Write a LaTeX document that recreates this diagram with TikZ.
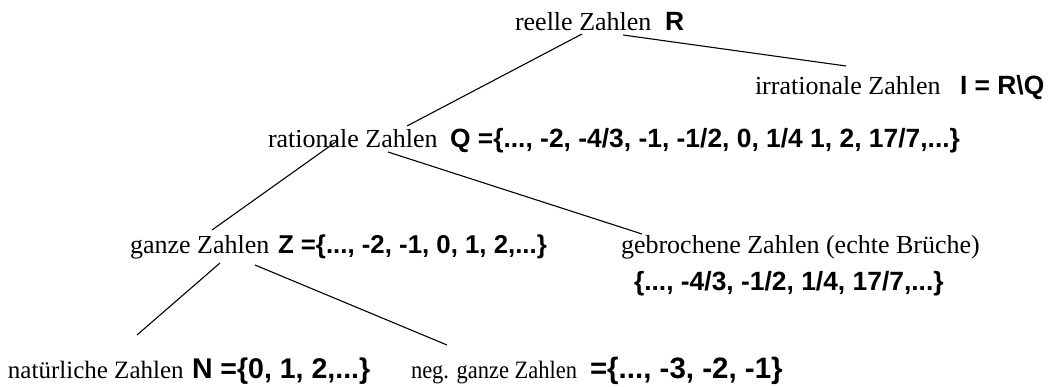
\documentclass[tikz,border=0pt]{standalone}
\usepackage{graphicx}
\usepackage{fontspec}
\setmainfont{Liberation Serif}
\newfontfamily\bsans{Liberation Sans}
\begin{document}
\begin{tikzpicture}[x=1pt,y=-1pt,
  lbl/.style={anchor=base west,inner sep=0pt,outer sep=0pt,font=\fontsize{26}{30}\selectfont},
  set/.style={anchor=base west,inner sep=0pt,outer sep=0pt,font=\fontsize{26.4}{30}\selectfont\bsans\bfseries},
  lblsmall/.style={lbl,font=\fontsize{25}{30}\selectfont},
  setbig/.style={set,font=\fontsize{28.5}{32}\selectfont\bsans\bfseries},
  conn/.style={line width=1.1pt,black}]
\useasboundingbox (0,0) rectangle (1048,387);
% labels
\node[lbl] (reelle) at (515,31) {reelle Zahlen};
\node[set] (Rset) at (665,31) {R};
\node[lbl] (irr) at (755,95) {irrationale Zahlen};
\node[set] (Iset) at (960,95) {I = R\textbackslash Q};
\node[lbl] (rat) at (268,148) {rationale Zahlen};
\node[set] (Qset) at (450,148) {Q =\{..., -2, -4/3, -1, -1/2, 0, 1/4 1, 2, 17/7,...\}};
\node[lbl] (ganz) at (130,253) {ganze Zahlen};
\node[set,font=\fontsize{25.8}{30}\selectfont\bsans\bfseries] (Zset) at (278,253) {Z =\{..., -2, -1, 0, 1, 2,...\}};
\node[lbl] (gebr) at (621,253) {gebrochene Zahlen (echte Brüche)};
\node[set] (Bset) at (634,290) {\{..., -4/3, -1/2, 1/4, 17/7,...\}};
\node[lblsmall] (nat) at (8,378) {natürliche Zahlen};
\node[setbig] (Nset) at (192,378) {N =\{0, 1, 2,...\}};
\node[lblsmall] (neg) at (411,378) {\scalebox{0.9}[1]{neg. ganze Zahlen}};
\node[setbig,font=\fontsize{29.5}{32}\selectfont\bsans\bfseries] (negset) at (590,378) {=\{..., -3, -2, -1\}};
% connector end points
\coordinate (rL) at (582,34);
\coordinate (rR) at (623,35);
\coordinate (ratT) at (407,126);
\coordinate (irrT) at (846,66);
\coordinate (ratL) at (337,141);
\coordinate (ratR) at (388,152);
\coordinate (ganzT) at (212,230);
\coordinate (gebrT) at (642,234);
\coordinate (ganzL) at (220,263);
\coordinate (ganzR) at (255,265);
\coordinate (natT) at (137,335);
\coordinate (negT) at (447,345);
\draw[conn] (rL) -- (ratT);
\draw[conn] (rR) -- (irrT);
\draw[conn] (ratL) -- (ganzT);
\draw[conn] (ratR) -- (gebrT);
\draw[conn] (ganzL) -- (natT);
\draw[conn] (ganzR) -- (negT);
\end{tikzpicture}
\end{document}
